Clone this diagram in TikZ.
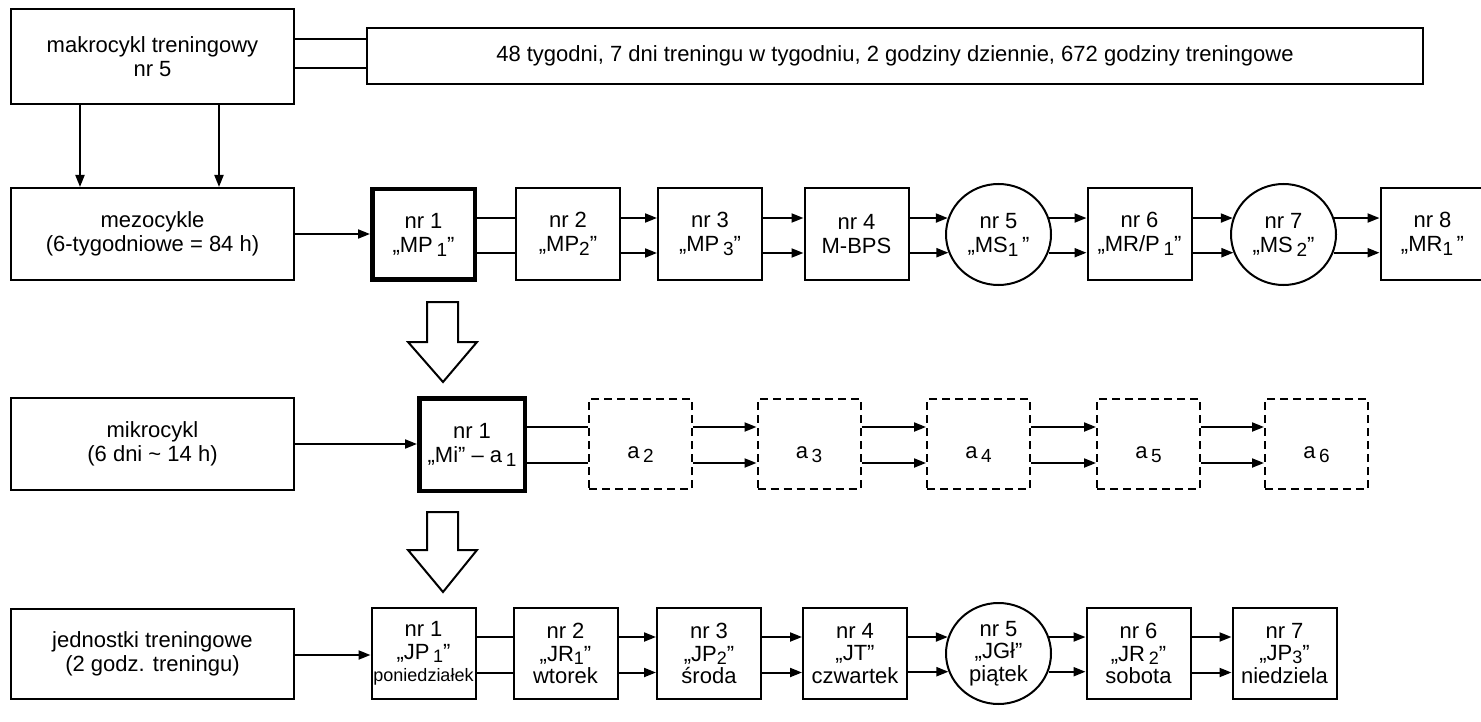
\documentclass[tikz,border=0pt]{standalone}
\usepackage{fontspec}
\setmainfont{Liberation Sans}
\usetikzlibrary{arrows.meta,shapes.geometric}
\newcommand{\sbs}[1]{\raisebox{-4pt}{\fontsize{19}{19}\selectfont #1}}
\newcommand{\jsbs}[1]{\raisebox{-3pt}{\fontsize{18}{18}\selectfont #1}}
\begin{document}
\begin{tikzpicture}[x=1pt,y=-1pt,
  box/.style={draw, line width=2pt, inner sep=0pt, align=center, font=\fontsize{22}{24}\selectfont},
  leftbox/.style={box, minimum width=283pt},
  mbox/.style={box, minimum width=104pt, minimum height=92pt},
  heavy/.style={line width=4.5pt},
  circ/.style={box, ellipse, minimum width=105pt, minimum height=101pt},
  dbox/.style={box, dash pattern=on 8pt off 5pt, minimum width=103pt, minimum height=90pt, text height=28pt, text depth=0pt},
  jbox/.style={box, minimum width=104pt, minimum height=91pt, font=\fontsize{22}{22.5}\selectfont},
  ln/.style={line width=2pt},
  arr/.style={line width=2pt, -{Triangle[length=12pt,width=9pt]}},
  bigarrow/.style={draw, line width=2pt, fill=white, line join=miter}
]
\useasboundingbox[fill=white] (0,0) rectangle (1481,722);

% left column
\node[leftbox, minimum height=95pt] (makro) at (152.5,56.5) {makrocykl treningowy\\nr 5};
\node[box, minimum width=1056pt, minimum height=56pt] (info) at (895,56) {48 tygodni, 7 dni treningu w tygodniu, 2 godziny dziennie, 672 godziny treningowe};
\node[leftbox, minimum height=92pt] (mezo) at (152.5,234) {mezocykle\\(6-tygodniowe = 84 h)};
\node[leftbox, minimum height=92pt] (mikro) at (152.5,444) {mikrocykl\\(6 dni \textasciitilde{} 14 h)};
\node[leftbox, minimum height=90pt] (jedn) at (152.5,654) {jednostki treningowe\\(2 godz. treningu)};

% mesocycles
\node[mbox, heavy, minimum width=102.5pt, minimum height=90.5pt] (MP1) at (423.5,234.5) {nr 1\\„MP\,\sbs{1}”};
\node[mbox] (MP2) at (568,234) {nr 2\\„MP\sbs{2}”};
\node[mbox] (MP3) at (710,234) {nr 3\\„MP\,\sbs{3}”};
\node[mbox] (MP4) at (856.5,234) {nr 4\\M-BPS};
\node[circ] (C5) at (998.5,234.5) {nr 5\\„MS\sbs{1}\,”};
\node[mbox] (MRP1) at (1139.5,234) {nr 6\\„MR/P\,\sbs{1}”};
\node[circ] (C7) at (1283.5,234.5) {nr 7\\„MS\,\sbs{2}”};
\node[mbox] (MR1) at (1432.5,234) {nr 8\\„MR\sbs{1}\,”};

% microcycles
\node[mbox, heavy, minimum width=105.5pt, minimum height=92.5pt] (Mi) at (472,444.5) {nr 1\\„Mi” – a\,\sbs{1}};
\node[dbox] (a2) at (640.5,444) {a\,\sbs{2}};
\node[dbox] (a3) at (809,444) {a\,\sbs{3}};
\node[dbox] (a4) at (978.5,444) {a\,\sbs{4}};
\node[dbox] (a5) at (1148.5,444) {a\,\sbs{5}};
\node[dbox] (a6) at (1316.5,444) {a\,\sbs{6}};

% training units
\node[jbox] (JP1) at (423.5,653.5) {nr 1\\„JP\,\jsbs{1}”\\{\fontsize{18}{22.5}\selectfont poniedziałek}};
\node[jbox] (JR1) at (565.5,653.5) {nr 2\\„JR\jsbs{1}”\\wtorek};
\node[jbox] (JP2) at (709,653.5) {nr 3\\„JP\jsbs{2}”\\środa};
\node[jbox] (JT) at (855,653.5) {nr 4\\„JT”\\czwartek};
\node[circ, font=\fontsize{22}{22.5}\selectfont] (JG) at (998.5,653.5) {nr 5\\„JGł”\\piątek};
\node[jbox] (JR2) at (1138.5,653.5) {nr 6\\„JR\,\jsbs{2}”\\sobota};
\node[jbox] (JP3) at (1284.5,653.5) {nr 7\\„JP\jsbs{3}”\\niedziela};

% top connectors
\draw[ln] (makro.east |- 0,39) -- (info.west |- 0,39);
\draw[ln] (makro.east |- 0,68) -- (info.west |- 0,68);
\draw[arr] (makro.south -| 80,0) -- (mezo.north -| 80,0);
\draw[arr] (makro.south -| 219,0) -- (mezo.north -| 219,0);

% row entry arrows
\draw[arr] (mezo.east) -- (mezo.east -| MP1.west);
\draw[arr] (mikro.east) -- (mikro.east -| Mi.west);
\draw[arr] (jedn.east |- 0,655) -- (JP1.west |- 0,655);

% mesocycle connectors
\foreach \yy in {218,253}{
  \draw[ln] (MP1.east |- 0,\yy) -- (MP2.west |- 0,\yy);
  \draw[arr] (MP2.east |- 0,\yy) -- (MP3.west |- 0,\yy);
  \draw[arr] (MP3.east |- 0,\yy) -- (MP4.west |- 0,\yy);
}
\foreach \ang/\bng in {162/18,200/340}{
  \draw[arr] (MP4.east |- C5.\ang) -- (C5.\ang);
  \draw[arr] (C5.\bng) -- (C5.\bng -| MRP1.west);
  \draw[arr] (MRP1.east |- C7.\ang) -- (C7.\ang);
  \draw[arr] (C7.\bng) -- (C7.\bng -| MR1.west);
}

% microcycle connectors
\foreach \yy in {427,463}{
  \draw[ln] (Mi.east |- 0,\yy) -- (a2.west |- 0,\yy);
  \draw[arr] (a2.east |- 0,\yy) -- (a3.west |- 0,\yy);
  \draw[arr] (a3.east |- 0,\yy) -- (a4.west |- 0,\yy);
  \draw[arr] (a4.east |- 0,\yy) -- (a5.west |- 0,\yy);
  \draw[arr] (a5.east |- 0,\yy) -- (a6.west |- 0,\yy);
}

% training unit connectors
\foreach \yy in {637,672.5}{
  \draw[ln] (JP1.east |- 0,\yy) -- (JR1.west |- 0,\yy);
  \draw[arr] (JR1.east |- 0,\yy) -- (JP2.west |- 0,\yy);
  \draw[arr] (JP2.east |- 0,\yy) -- (JT.west |- 0,\yy);
}
\foreach \ang/\bng in {162/18,200/340}{
  \draw[arr] (JT.east |- JG.\ang) -- (JG.\ang);
  \draw[arr] (JG.\bng) -- (JG.\bng -| JR2.west);
}
\foreach \yy in {637,672.5}{
  \draw[arr] (JR2.east |- 0,\yy) -- (JP3.west |- 0,\yy);
}

% big hollow arrows
\draw[bigarrow] (427,302) -- (458,302) -- (458,342) -- (477,342) -- (443,382) -- (408,342) -- (427,342) -- cycle;
\draw[bigarrow] (427,512) -- (458,512) -- (458,550) -- (477,550) -- (443,592) -- (408,550) -- (427,550) -- cycle;
\end{tikzpicture}
\end{document}
